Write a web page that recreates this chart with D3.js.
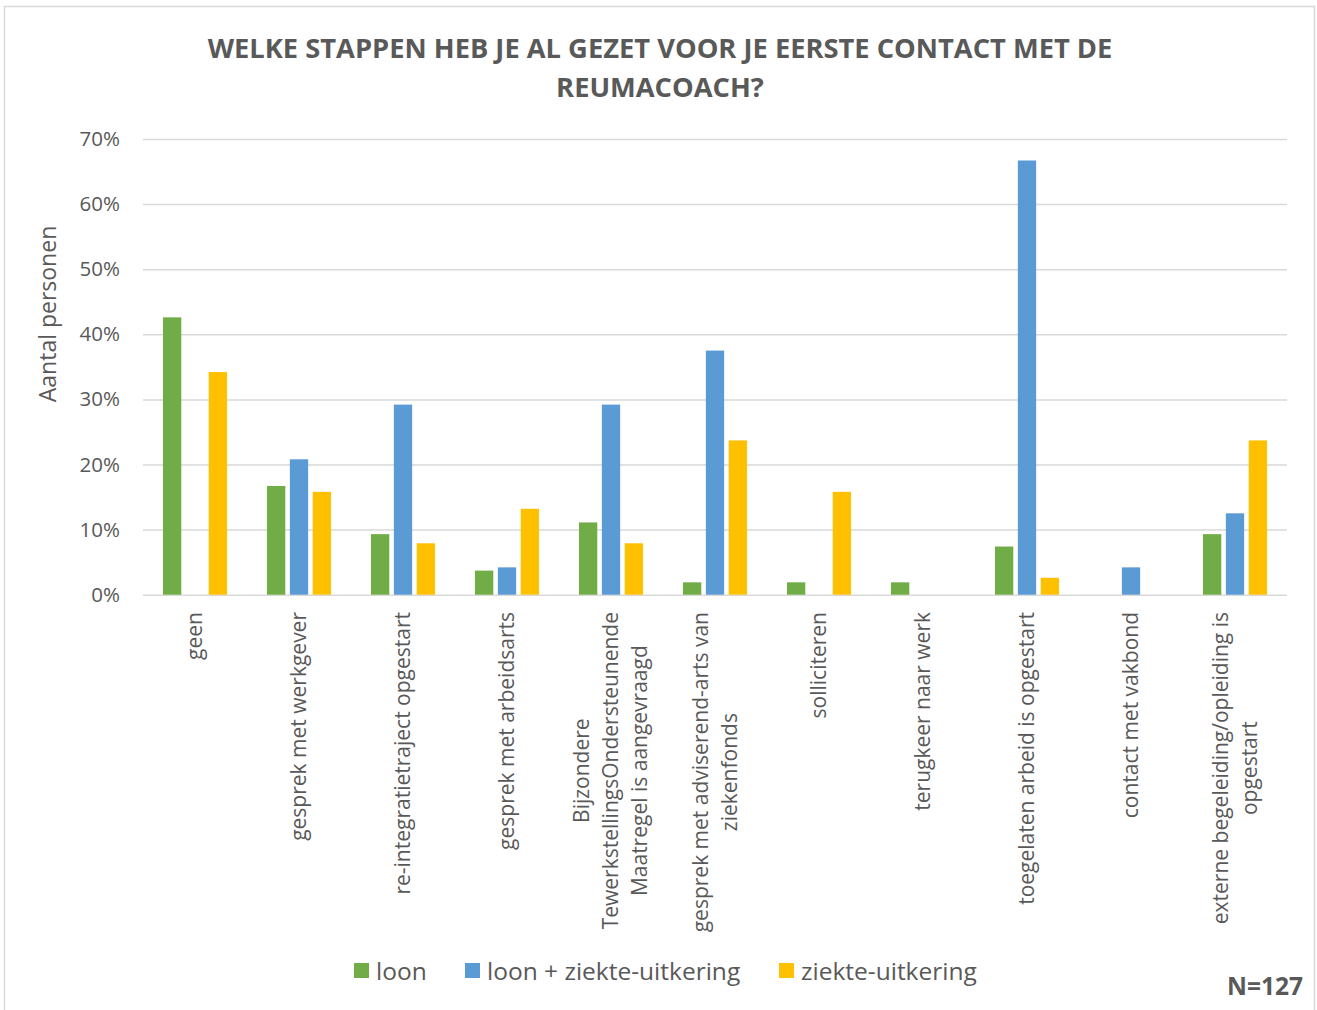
<!DOCTYPE html>
<html>
<head>
<meta charset="utf-8">
<script src="https://cdn.jsdelivr.net/npm/d3@7"></script>
<style>
  body { margin: 0; background: #fff; }
  text { font-family: "Open Sans", "DejaVu Sans", sans-serif; fill: #595959; }
</style>
</head>
<body>
<svg id="chart"></svg>
<script>
// categories (each entry = lines of the wrapped label)
const categories = [
  ['geen'],
  ['gesprek met werkgever'],
  ['re-integratietraject opgestart'],
  ['gesprek met arbeidsarts'],
  ['Bijzondere', 'TewerkstellingsOndersteunende', 'Maatregel is aangevraagd'],
  ['gesprek met adviserend-arts van', 'ziekenfonds'],
  ['solliciteren'],
  ['terugkeer naar werk'],
  ['toegelaten arbeid is opgestart'],
  ['contact met vakbond'],
  ['externe begeleiding/opleiding is', 'opgestart']
];

const seriesNames = ['loon', 'loon + ziekte-uitkering', 'ziekte-uitkering'];
const seriesColors = ['#70AD47', '#5B9BD5', '#FFC000'];

// percentages
const loon = [42.6, 16.7, 9.3, 3.7, 11.1, 1.9, 1.9, 1.9, 7.4, 0, 9.3];
const loonZiekte = [0, 20.8, 29.2, 4.2, 29.2, 37.5, 0, 0, 66.7, 4.2, 12.5];
const ziekte = [34.2, 15.8, 7.9, 13.2, 7.9, 23.7, 15.8, 0, 2.6, 0, 23.7];

const yTicks = [0, 10, 20, 30, 40, 50, 60, 70];

const title = ['WELKE STAPPEN HEB JE AL GEZET VOOR JE EERSTE CONTACT MET DE', 'REUMACOACH?'];

const W = 1317, H = 1010;
const plot = { left: 143, right: 1287, top: 139, bottom: 594.7 };

const seriesData = [loon, loonZiekte, ziekte];
const data = categories.map((c, i) => ({
  key: i,
  lines: c,
  values: seriesData.map((s, j) => ({ series: j, value: s[i] }))
}));

const svg = d3.select('#chart')
    .attr('width', W)
    .attr('height', H);

// outer chart border
svg.append('rect')
    .attr('x', 4.5).attr('y', 6.5)
    .attr('width', 1310).attr('height', 1010)
    .attr('fill', '#fff')
    .attr('stroke', '#d9d9d9')
    .attr('stroke-width', 1.5);

// scales
const xScale = d3.scaleBand()
    .domain(data.map(d => d.key))
    .range([plot.left, plot.right])
    .paddingInner(0.34)
    .paddingOuter(0.17);

const xSub = d3.scaleBand()
    .domain([0, 1, 2])
    .range([0, xScale.bandwidth()])
    .paddingInner(0.2)
    .paddingOuter(0.1);

const yScale = d3.scaleLinear()
    .domain([0, 70])
    .range([plot.bottom, plot.top]);

// gridlines + y labels
const yAxis = d3.axisLeft(yScale)
    .tickValues(yTicks)
    .tickSize(-(plot.right - plot.left))
    .tickPadding(23)
    .tickFormat(d => d + '%');

const yAxisG = svg.append('g')
    .attr('transform', `translate(${plot.left},0)`)
    .call(yAxis);

yAxisG.select('.domain').remove();
yAxisG.selectAll('.tick line')
    .attr('stroke', '#d9d9d9')
    .attr('stroke-width', 1.5);
yAxisG.selectAll('.tick text')
    .style('font-size', '20.5px')
    .style('font-family', '"Open Sans", sans-serif')
    .attr('fill', '#595959');

// bars
const groups = svg.append('g').selectAll('.group')
    .data(data)
    .join('g')
    .attr('class', 'group')
    .attr('transform', d => `translate(${xScale(d.key)},0)`);

groups.selectAll('rect')
    .data(d => d.values)
    .join('rect')
    .attr('x', d => xSub(d.series))
    .attr('width', xSub.bandwidth())
    .attr('y', d => yScale(d.value))
    .attr('height', d => plot.bottom - yScale(d.value))
    .attr('fill', d => seriesColors[d.series]);

// category labels (rotated, wrapped lines centred on each other)
const labelTop = 612;
const lineH = 29;
const labels = svg.append('g').selectAll('.cat-label')
    .data(data)
    .join('g')
    .attr('class', 'cat-label')
    .attr('transform', d => `translate(${xScale(d.key) + xScale.bandwidth() / 2},${labelTop}) rotate(-90)`);

labels.each(function (d) {
  const g = d3.select(this);
  const texts = g.selectAll('text')
      .data(d.lines)
      .join('text')
      .style('font-size', '21px')
      .attr('text-anchor', 'middle')
      .attr('dy', '0.35em')
      .attr('y', (l, i) => (i - (d.lines.length - 1) / 2) * lineH)
      .text(l => l);
  let maxLen = 0;
  texts.each(function () { maxLen = Math.max(maxLen, this.getComputedTextLength()); });
  texts.attr('x', -maxLen / 2);
});

// y axis title
svg.append('text')
    .attr('transform', 'translate(56,314) rotate(-90)')
    .attr('text-anchor', 'middle')
    .style('font-size', '23px')
    .text('Aantal personen');

// chart title
svg.append('g').selectAll('text')
    .data(title)
    .join('text')
    .attr('x', 660)
    .attr('y', (d, i) => 58 + i * 39)
    .attr('text-anchor', 'middle')
    .style('font-size', '27.3px')
    .style('font-weight', 'bold')
    .text(d => d);

// legend
const legendX = [354, 465, 779];
const legend = svg.append('g').selectAll('.legend-item')
    .data(seriesNames)
    .join('g')
    .attr('class', 'legend-item')
    .attr('transform', (d, i) => `translate(${legendX[i]},963)`);

legend.append('rect')
    .attr('width', 15)
    .attr('height', 15)
    .attr('fill', (d, i) => seriesColors[i]);

legend.append('text')
    .attr('x', 22)
    .attr('y', 8)
    .attr('dy', '0.35em')
    .style('font-size', '24.5px')
    .text(d => d);

// sample size
svg.append('text')
    .attr('x', 1303)
    .attr('y', 995)
    .attr('text-anchor', 'end')
    .style('font-size', '24.5px')
    .style('font-weight', 'bold')
    .attr('fill', '#7f7f7f')
    .text('N=127');
</script>
</body>
</html>
